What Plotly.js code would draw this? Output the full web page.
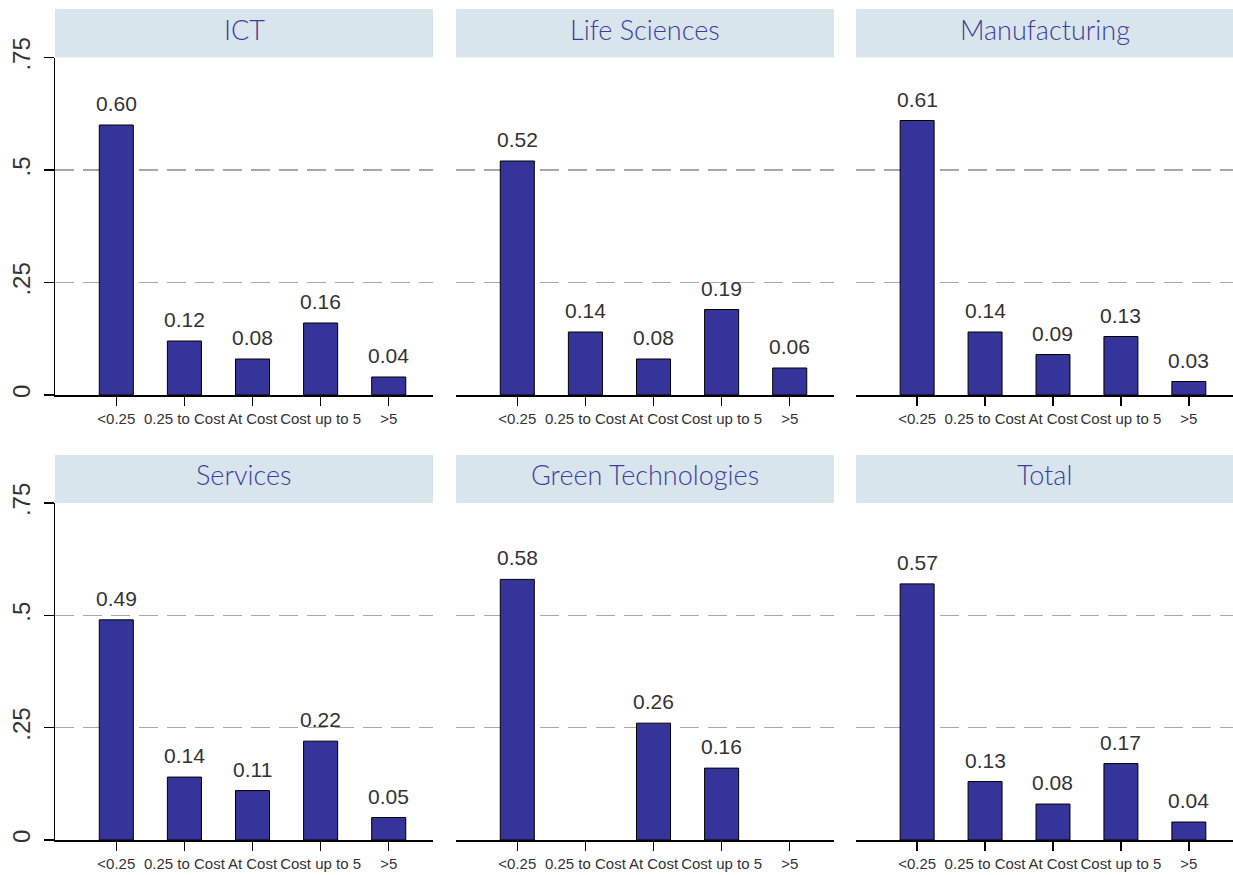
<!DOCTYPE html>
<html>
<head>
<meta charset="utf-8">
<script src="https://cdn.plot.ly/plotly-3.0.1.min.js"></script>
<style>html,body{margin:0;padding:0;background:#fff;}#chart{width:1233px;height:875px;}</style>
</head>
<body>
<div id="chart"></div>
<script>
// ---- data ----
const categories = ["<0.25", "0.25 to Cost", "At Cost", "Cost up to 5", ">5"];
const panelTitles = ["ICT", "Life Sciences", "Manufacturing", "Services", "Green Technologies", "Total"];
const ictValues = [0.60, 0.12, 0.08, 0.16, 0.04];
const lifeSciencesValues = [0.52, 0.14, 0.08, 0.19, 0.06];
const manufacturingValues = [0.61, 0.14, 0.09, 0.13, 0.03];
const servicesValues = [0.49, 0.14, 0.11, 0.22, 0.05];
const greenTechValues = [0.58, null, 0.26, 0.16, null];
const totalValues = [0.57, 0.13, 0.08, 0.17, 0.04];
const yTickVals = [0, 0.25, 0.5, 0.75];
const yTickText = ["0", ".25", ".5", ".75"];
const gridVals = [0.25, 0.5];

const seriesList = [ictValues, lifeSciencesValues, manufacturingValues, servicesValues, greenTechValues, totalValues];

// ---- layout geometry ----
const W = 1233, H = 875;
const cols = [[55, 433], [456, 834], [856, 1233]];
const rowsPlot = [[57.5, 395], [503, 840]];
const rowsStrip = [[9, 57.5], [455, 503]];
const fx = px => px / W;
const fy = py => 1 - py / H;

const BAR = '#35349a';
const TXT = '#333333';
const TITLE = '#3d3d9e';
const STRIP = '#d9e5ec';

const data = [];
const layout = {
  width: W, height: H,
  margin: {l: 0, r: 0, t: 0, b: 0},
  paper_bgcolor: '#fff', plot_bgcolor: '#fff',
  showlegend: false,
  font: {family: 'Liberation Sans, Arial, sans-serif', color: TXT},
  shapes: [], annotations: []
};

seriesList.forEach((vals, i) => {
  const r = Math.floor(i / 3), c = i % 3;
  const n = i + 1;
  const xa = 'x' + (n === 1 ? '' : n), ya = 'y' + (n === 1 ? '' : n);
  data.push({
    type: 'bar', x: categories, y: vals, xaxis: xa, yaxis: ya,
    width: 0.5,
    marker: {color: BAR, line: {color: '#000', width: 1}},
    hoverinfo: 'skip'
  });
  // value labels above bars
  vals.forEach((v, k) => {
    if (v === null) return;
    layout.annotations.push({
      xref: xa, yref: ya, x: categories[k], y: v,
      text: v.toFixed(2), showarrow: false,
      xanchor: 'center', yanchor: 'bottom', yshift: 8,
      font: {family: 'Liberation Sans, Arial, sans-serif', size: 21, color: TXT}
    });
  });
  const xKey = 'xaxis' + (n === 1 ? '' : n), yKey = 'yaxis' + (n === 1 ? '' : n);
  layout[xKey] = {
    domain: [fx(cols[c][0]), fx(cols[c][1])], anchor: ya,
    type: 'category', categoryorder: 'array', categoryarray: categories,
    range: [-0.9, 4.65], fixedrange: true,
    showline: true, linecolor: '#000', linewidth: 1.5,
    ticks: 'outside', ticklen: 9, tickwidth: 1.5, tickcolor: '#000',
    tickangle: 0, tickfont: {size: 15, color: TXT},
    showgrid: false, zeroline: false
  };
  const left = c === 0;
  layout[yKey] = {
    domain: [fy(rowsPlot[r][1]), fy(rowsPlot[r][0])], anchor: xa,
    range: [0, 0.75], fixedrange: true,
    tickmode: 'array', tickvals: yTickVals, ticktext: yTickText,
    showticklabels: left, ticks: left ? 'outside' : '',
    ticklen: 10, tickwidth: 1.5, tickcolor: '#000',
    tickangle: -90, tickfont: {size: 24, color: TXT},
    ticklabelstandoff: 4,
    showline: left, linecolor: '#000', linewidth: 1.5,
    showgrid: false, zeroline: false,
    minor: {tickmode: 'array', tickvals: gridVals, showgrid: true, gridcolor: '#a8a8a8',
            gridwidth: 1.5, griddash: '19px,9px', ticks: ''}
  };
  layout.shapes.push({
    type: 'rect', xref: 'paper', yref: 'paper',
    x0: fx(cols[c][0]), x1: fx(cols[c][1]),
    y0: fy(rowsStrip[r][1]), y1: fy(rowsStrip[r][0]),
    fillcolor: STRIP, line: {width: 0}, layer: 'above'
  });
  layout.annotations.push({
    text: panelTitles[i], xref: 'paper', yref: 'paper',
    x: fx((cols[c][0] + cols[c][1]) / 2), y: fy((rowsStrip[r][0] + rowsStrip[r][1]) / 2 - 4),
    xanchor: 'center', yanchor: 'middle', showarrow: false,
    font: {family: 'Lato, Liberation Sans, sans-serif', size: 27, weight: 300, color: TITLE}
  });
});

Plotly.newPlot('chart', data, layout, {staticPlot: true, displayModeBar: false});
</script>
</body>
</html>
